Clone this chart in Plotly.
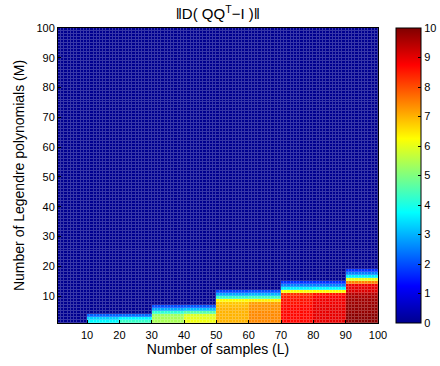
import plotly.graph_objects as go

# Axis edges (pcolor-style grid): L = number of samples, M = number of Legendre polynomials
L_edges = list(range(1, 101))
M_edges = list(range(1, 101))
x_ticks = [10, 20, 30, 40, 50, 60, 70, 80, 90, 100]
y_ticks = [10, 20, 30, 40, 50, 60, 70, 80, 90, 100]
cbar_ticks = [0, 1, 2, 3, 4, 5, 6, 7, 8, 9, 10]

# Column blocks of L (start of each block of 10 samples) and the norm read
# bottom-up along M (row 1, row 2, ...); above the listed rows the value is 0.
block_starts = [10, 20, 30, 40, 50, 60, 70, 80, 90]
block_profiles = [
    [3.7, 3.3, 2.2],
    [4.3, 3.7, 2.3],
    [5.4, 5.4, 5.3, 4.2, 2.9, 2.0],
    [6.1, 6.0, 5.9, 4.6, 3.1, 2.1],
    [7.0, 7.0, 7.0, 7.0, 7.0, 6.9, 6.8, 6.3, 4.3, 2.9, 1.9],
    [7.4, 7.4, 7.4, 7.4, 7.3, 7.3, 7.2, 6.4, 4.4, 3.0, 2.0],
    [8.7, 8.7, 8.7, 8.7, 8.7, 8.7, 8.6, 8.6, 8.5, 8.3, 6.2, 3.6, 2.5, 1.7],
    [9.0, 9.0, 9.0, 9.0, 9.0, 9.0, 8.9, 8.9, 8.8, 8.6, 6.3, 3.7, 2.5, 1.7],
    [9.9, 9.9, 9.9, 9.8, 9.8, 9.8, 9.7, 9.7, 9.6, 9.5, 9.1, 9.0, 8.9, 7.5, 6.0, 3.6, 2.5, 1.7],
]

z = []
for m in M_edges[:-1]:
    row = []
    for l in L_edges[:-1]:
        v = 0.0
        for s, prof in zip(block_starts, block_profiles):
            if s <= l < s + 10 and m - 1 < len(prof):
                v = prof[m - 1]
        row.append(v)
    z.append(row)

jet = [[0.0, "#00008F"], [0.125, "#0000FF"], [0.375, "#00FFFF"],
       [0.625, "#FFFF00"], [0.875, "#FF0000"], [1.0, "#800000"]]


def lighten(hexc, f):
    r, g, b = int(hexc[1:3], 16), int(hexc[3:5], 16), int(hexc[5:7], 16)
    r, g, b = [int(round(c + (255 - c) * f)) for c in (r, g, b)]
    return f"rgb({r},{g},{b})"


jet_light = [[p, lighten(c, 0.22)] for p, c in jet]

font_family = "Liberation Sans, Arial, Helvetica, sans-serif"

fig = go.Figure()
# lighter layer showing through the cell gaps (mimics the mesh edges)
fig.add_trace(go.Heatmap(x=L_edges, y=M_edges, z=z, zmin=0, zmax=10,
                         colorscale=jet_light, showscale=False, hoverinfo="skip"))
fig.add_trace(go.Heatmap(
    x=L_edges, y=M_edges, z=z, zmin=0, zmax=10, colorscale=jet,
    xgap=1, ygap=1, hoverinfo="skip",
    colorbar=dict(
        tickvals=cbar_ticks, ticks="inside", ticklen=3, tickcolor="black",
        outlinecolor="black", outlinewidth=1, thickness=25,
        x=0.9, xanchor="left", xpad=0, xref="container",
        y=0.5, yanchor="middle", len=1, lenmode="fraction", ypad=0,
        tickfont=dict(size=11, color="black", family=font_family),
    ),
))

fig.update_layout(
    width=440, height=366,
    margin=dict(l=58, r=62, t=28, b=43, autoexpand=False),
    paper_bgcolor="white", plot_bgcolor="white",
    hovermode=False,
    font=dict(family=font_family, color="black", size=11),
    title=dict(text="‖D( QQ<sup>T</sup>−I )‖", x=0.495, xanchor="center",
               y=0.962, yanchor="middle", font=dict(size=15)),
    xaxis=dict(range=[1, 100], tickvals=x_ticks, ticks="inside", ticklen=3,
               tickcolor="black", showline=True, linecolor="black", linewidth=1,
               mirror=True, showgrid=False, zeroline=False, layer="above traces",
               ticklabelstandoff=2,
               title=dict(text="Number of samples (L)", font=dict(size=14), standoff=1),
               tickfont=dict(size=11)),
    yaxis=dict(range=[1, 100], tickvals=y_ticks, ticks="inside", ticklen=3,
               tickcolor="black", showline=True, linecolor="black", linewidth=1,
               mirror=True, showgrid=False, zeroline=False, layer="above traces",
               title=dict(text="Number of Legendre polynomials (M)", font=dict(size=14), standoff=8),
               tickfont=dict(size=11)),
)

fig.write_html("out.html", config={"displayModeBar": False},
               post_script="document.body.style.margin='0px';")
